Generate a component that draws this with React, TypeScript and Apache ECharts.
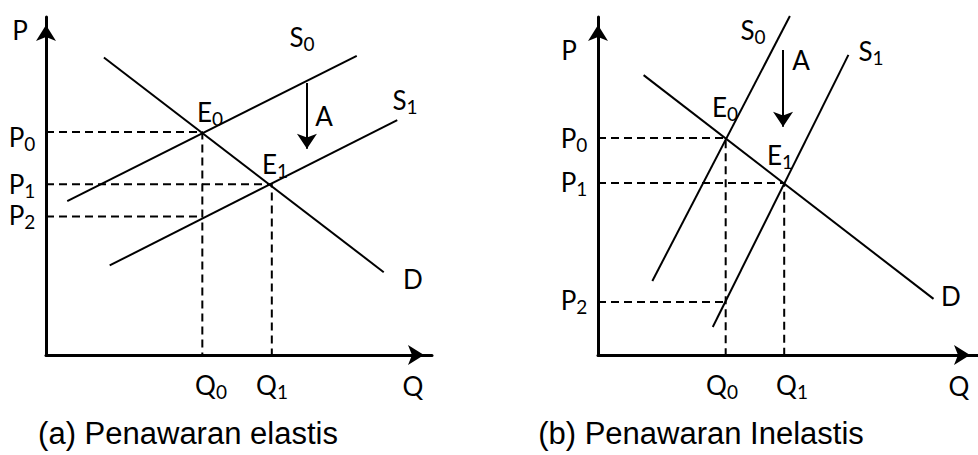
import React, { useEffect, useRef } from "react";
import * as echarts from "echarts";

// ---------- data (arbitrary 0..10 units on both axes) ----------
// Panel (a) Penawaran elastis
const supplyA0 = [[0.55, 4.55], [8.05, 8.85]];
const supplyA1 = [[1.65, 2.65], [9.1, 6.95]];
const demandA = [[1.5, 8.8], [8.75, 2.45]];
const equilibriumA0 = [4.05, 6.6];
const equilibriumA1 = [5.85, 5.05];
const priceA2 = 4.1;
const shiftArrowA = [[6.76, 8.05], [6.76, 6.1]];

// Panel (b) Penawaran Inelastis
const supplyB0 = [[1.43, 2.19], [5.05, 10.03]];
const supplyB1 = [[3.02, 0.83], [6.59, 8.88]];
const demandB = [[1.2, 8.28], [8.83, 1.66]];
const equilibriumB0 = [3.36, 6.42];
const equilibriumB1 = [4.9, 5.09];
const priceB2 = 1.57;
const shiftArrowB = [[4.87, 9.02], [4.87, 6.75]];

// text
const axisNames = ["P", "Q"];
const supplyNames = [["S", "0"], ["S", "1"]];
const demandName = "D";
const eqNames = [["E", "0"], ["E", "1"]];
const priceNames = [["P", "0"], ["P", "1"], ["P", "2"]];
const qtyNames = [["Q", "0"], ["Q", "1"]];
const shiftName = "A";
const captions = ["(a) Penawaran elastis", "(b) Penawaran Inelastis"];

const BLACK = "#000";
const LABEL_FONT = "Lato";
const MAIN_SIZE = 26;
const SUB_SIZE = 19;
const SUB_DROP = 6;

const measureCtx = (() => {
  const c = document.createElement("canvas");
  return c.getContext("2d")!;
})();
function textWidth(t: string, size: number) {
  measureCtx.font = `${size}px ${LABEL_FONT}`;
  return measureCtx.measureText(t).width;
}

function label(x: number, y: number, main: string, sub?: string) {
  const wm = textWidth(main, MAIN_SIZE);
  const ws = sub ? textWidth(sub, SUB_SIZE) : 0;
  const left = x - (wm + ws) / 2;
  const children: any[] = [
    {
      type: "text",
      x: left,
      y,
      silent: true,
      style: {
        text: main,
        fontFamily: LABEL_FONT,
        fontSize: MAIN_SIZE,
        fill: BLACK,
        align: "left",
        verticalAlign: "middle",
      },
    },
  ];
  if (sub) {
    children.push({
      type: "text",
      x: left + wm,
      y: y + SUB_DROP,
      silent: true,
      style: {
        text: sub,
        fontFamily: LABEL_FONT,
        fontSize: SUB_SIZE,
        fill: BLACK,
        align: "left",
        verticalAlign: "middle",
      },
    });
  }
  return { type: "group", silent: true, children };
}

function solid(name: string, data: number[][], idx: number) {
  return {
    name,
    type: "line",
    xAxisIndex: idx,
    yAxisIndex: idx,
    data,
    symbol: "none",
    clip: false,
    silent: true,
    lineStyle: { color: BLACK, width: 2 },
  };
}

function dashed(name: string, data: number[][], idx: number) {
  return {
    name,
    type: "line",
    xAxisIndex: idx,
    yAxisIndex: idx,
    data,
    symbol: "none",
    clip: false,
    silent: true,
    lineStyle: { color: BLACK, width: 2, type: [8, 5] },
  };
}

function arrow(name: string, coords: number[][], idx: number) {
  return {
    name,
    type: "lines",
    coordinateSystem: "cartesian2d",
    xAxisIndex: idx,
    yAxisIndex: idx,
    silent: true,
    symbol: ["none", "arrow"],
    symbolSize: 15,
    lineStyle: { color: BLACK, width: 2, opacity: 1 },
    data: [{ coords }],
  };
}

function axisCommon(idx: number) {
  return {
    type: "value",
    gridIndex: idx,
    min: 0,
    max: 10,
    axisLine: {
      show: true,
      onZero: false,
      symbol: ["none", "arrow"],
      symbolSize: [15, 16],
      symbolOffset: [0, -8],
      lineStyle: { color: BLACK, width: 3 },
    },
    axisTick: { show: false },
    axisLabel: { show: false },
    splitLine: { show: false },
  };
}

function guides(prefix: string, e0: number[], e1: number[], p2: number, idx: number) {
  return [
    dashed(prefix + "E0", [[0, e0[1]], [e0[0], e0[1]], [e0[0], 0]], idx),
    dashed(prefix + "E1", [[0, e1[1]], [e1[0], e1[1]], [e1[0], 0]], idx),
    dashed(prefix + "P2", [[0, p2], [e0[0], p2]], idx),
  ];
}

export default function App() {
  const ref = useRef<HTMLDivElement>(null);

  useEffect(() => {
    if (!ref.current) return;
    const chart = echarts.init(ref.current, null, { renderer: "svg" });
    const captionStyle = (x: number, text: string) => ({
      type: "text",
      x,
      y: 433,
      silent: true,
      style: {
        text,
        fontFamily: "Liberation Sans",
        fontSize: 31,
        fill: BLACK,
        align: "center",
        verticalAlign: "middle",
      },
    });
    chart.setOption({
      animation: false,
      backgroundColor: "#fff",
      grid: [
        { left: 46, top: 17, width: 386, height: 338 },
        { left: 598, top: 17, width: 384, height: 338 },
      ],
      xAxis: [axisCommon(0), axisCommon(1)],
      yAxis: [axisCommon(0), axisCommon(1)],
      series: [
        solid("S0 (a)", supplyA0, 0),
        solid("S1 (a)", supplyA1, 0),
        solid("D (a)", demandA, 0),
        ...guides("a", equilibriumA0, equilibriumA1, priceA2, 0),
        arrow("A (a)", shiftArrowA, 0),
        solid("S0 (b)", supplyB0, 1),
        solid("S1 (b)", supplyB1, 1),
        solid("D (b)", demandB, 1),
        ...guides("b", equilibriumB0, equilibriumB1, priceB2, 1),
        arrow("A (b)", shiftArrowB, 1),
      ],
      graphic: [
        // panel (a)
        label(20, 30, axisNames[0]),
        label(302, 37, supplyNames[0][0], supplyNames[0][1]),
        label(405, 100, supplyNames[1][0], supplyNames[1][1]),
        label(210, 112, eqNames[0][0], eqNames[0][1]),
        label(275, 164, eqNames[1][0], eqNames[1][1]),
        label(324, 116, shiftName),
        label(22, 137, priceNames[0][0], priceNames[0][1]),
        label(22, 184, priceNames[1][0], priceNames[1][1]),
        label(22, 215, priceNames[2][0], priceNames[2][1]),
        label(413, 279, demandName),
        label(211, 385, qtyNames[0][0], qtyNames[0][1]),
        label(272, 385, qtyNames[1][0], qtyNames[1][1]),
        label(413, 386, axisNames[1]),
        captionStyle(188, captions[0]),
        // panel (b)
        label(569, 50, axisNames[0]),
        label(753, 30, supplyNames[0][0], supplyNames[0][1]),
        label(871, 51, supplyNames[1][0], supplyNames[1][1]),
        label(725, 107, eqNames[0][0], eqNames[0][1]),
        label(780, 155, eqNames[1][0], eqNames[1][1]),
        label(801, 60, shiftName),
        label(574, 138, priceNames[0][0], priceNames[0][1]),
        label(574, 182, priceNames[1][0], priceNames[1][1]),
        label(574, 300, priceNames[2][0], priceNames[2][1]),
        label(951, 296, demandName),
        label(722, 385, qtyNames[0][0], qtyNames[0][1]),
        label(792, 385, qtyNames[1][0], qtyNames[1][1]),
        label(959, 386, axisNames[1]),
        captionStyle(701, captions[1]),
      ],
    });
    return () => chart.dispose();
  }, []);

  return (
    <div
      ref={ref}
      style={{ position: "absolute", left: 0, top: 0, width: 978, height: 455 }}
    />
  );
}
